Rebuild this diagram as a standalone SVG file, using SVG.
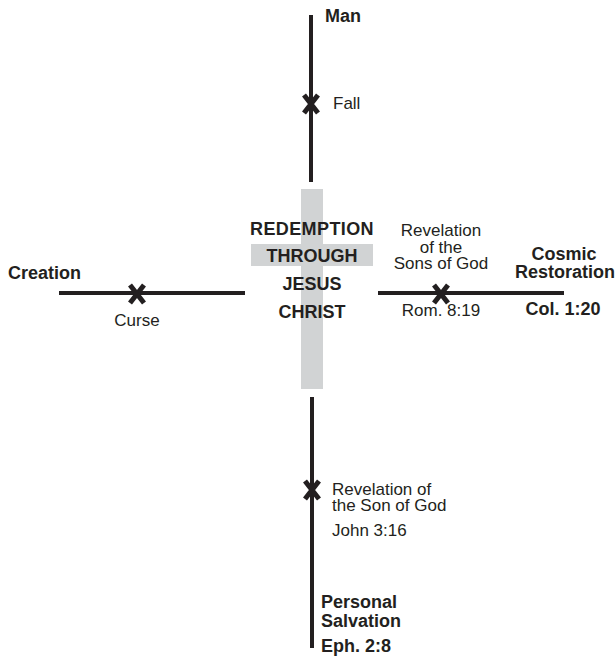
<svg xmlns="http://www.w3.org/2000/svg" width="616" height="656" viewBox="0 0 616 656">
<style>
.ln{stroke:#231f20;stroke-width:4;fill:none}
.x{stroke:#231f20;stroke-width:5;fill:none}
.b{font-family:"Liberation Sans",Arial,sans-serif;font-weight:bold;font-size:18px;fill:#231f20}
.r{font-family:"Liberation Sans",Arial,sans-serif;font-size:17px;fill:#231f20}
.c{text-anchor:middle}
</style>
<defs>
<path id="xm" d="M-7,-9 L7,9 M7,-9 L-7,9" class="x"/>
</defs>
<g id="cross">
<rect x="301" y="189" width="22" height="200" fill="#d1d3d4"/>
<rect x="251" y="244" width="122" height="22" fill="#d1d3d4"/>
<text class="b c" x="312" y="235" letter-spacing="0.4">REDEMPTION</text>
<text class="b c" x="312" y="262">THROUGH</text>
<text class="b c" x="312" y="290">JESUS</text>
<text class="b c" x="312" y="318">CHRIST</text>
</g>
<g id="connectors">
<line class="ln" x1="311" y1="15" x2="311" y2="182"/>
<line class="ln" x1="59" y1="293" x2="245" y2="293"/>
<line class="ln" x1="378" y1="293" x2="564" y2="293"/>
<line class="ln" x1="312" y1="397" x2="312" y2="648"/>
<use href="#xm" x="311" y="104"/>
<use href="#xm" x="137" y="294"/>
<use href="#xm" x="441" y="294"/>
<use href="#xm" x="312" y="490"/>
</g>
<g id="man">
<text class="b" x="325" y="22">Man</text>
<text class="r" x="333" y="109">Fall</text>
</g>
<g id="creation">
<text class="b" x="8" y="279">Creation</text>
<text class="r c" x="137" y="326">Curse</text>
</g>
<g id="cosmic">
<text class="r c" x="441" y="236">Revelation</text>
<text class="r c" x="441" y="253">of the</text>
<text class="r c" x="441" y="269">Sons of God</text>
<text class="r c" x="441" y="316">Rom. 8:19</text>
<text class="b c" x="564" y="260">Cosmic</text>
<text class="b c" x="565" y="278">Restoration</text>
<text class="b c" x="563" y="315">Col. 1:20</text>
</g>
<g id="personal">
<text class="r" x="332" y="495">Revelation of</text>
<text class="r" x="332" y="511">the Son of God</text>
<text class="r" x="332" y="536">John 3:16</text>
<text class="b" x="321" y="608">Personal</text>
<text class="b" x="321" y="627">Salvation</text>
<text class="b" x="321" y="652">Eph. 2:8</text>
</g>
</svg>
